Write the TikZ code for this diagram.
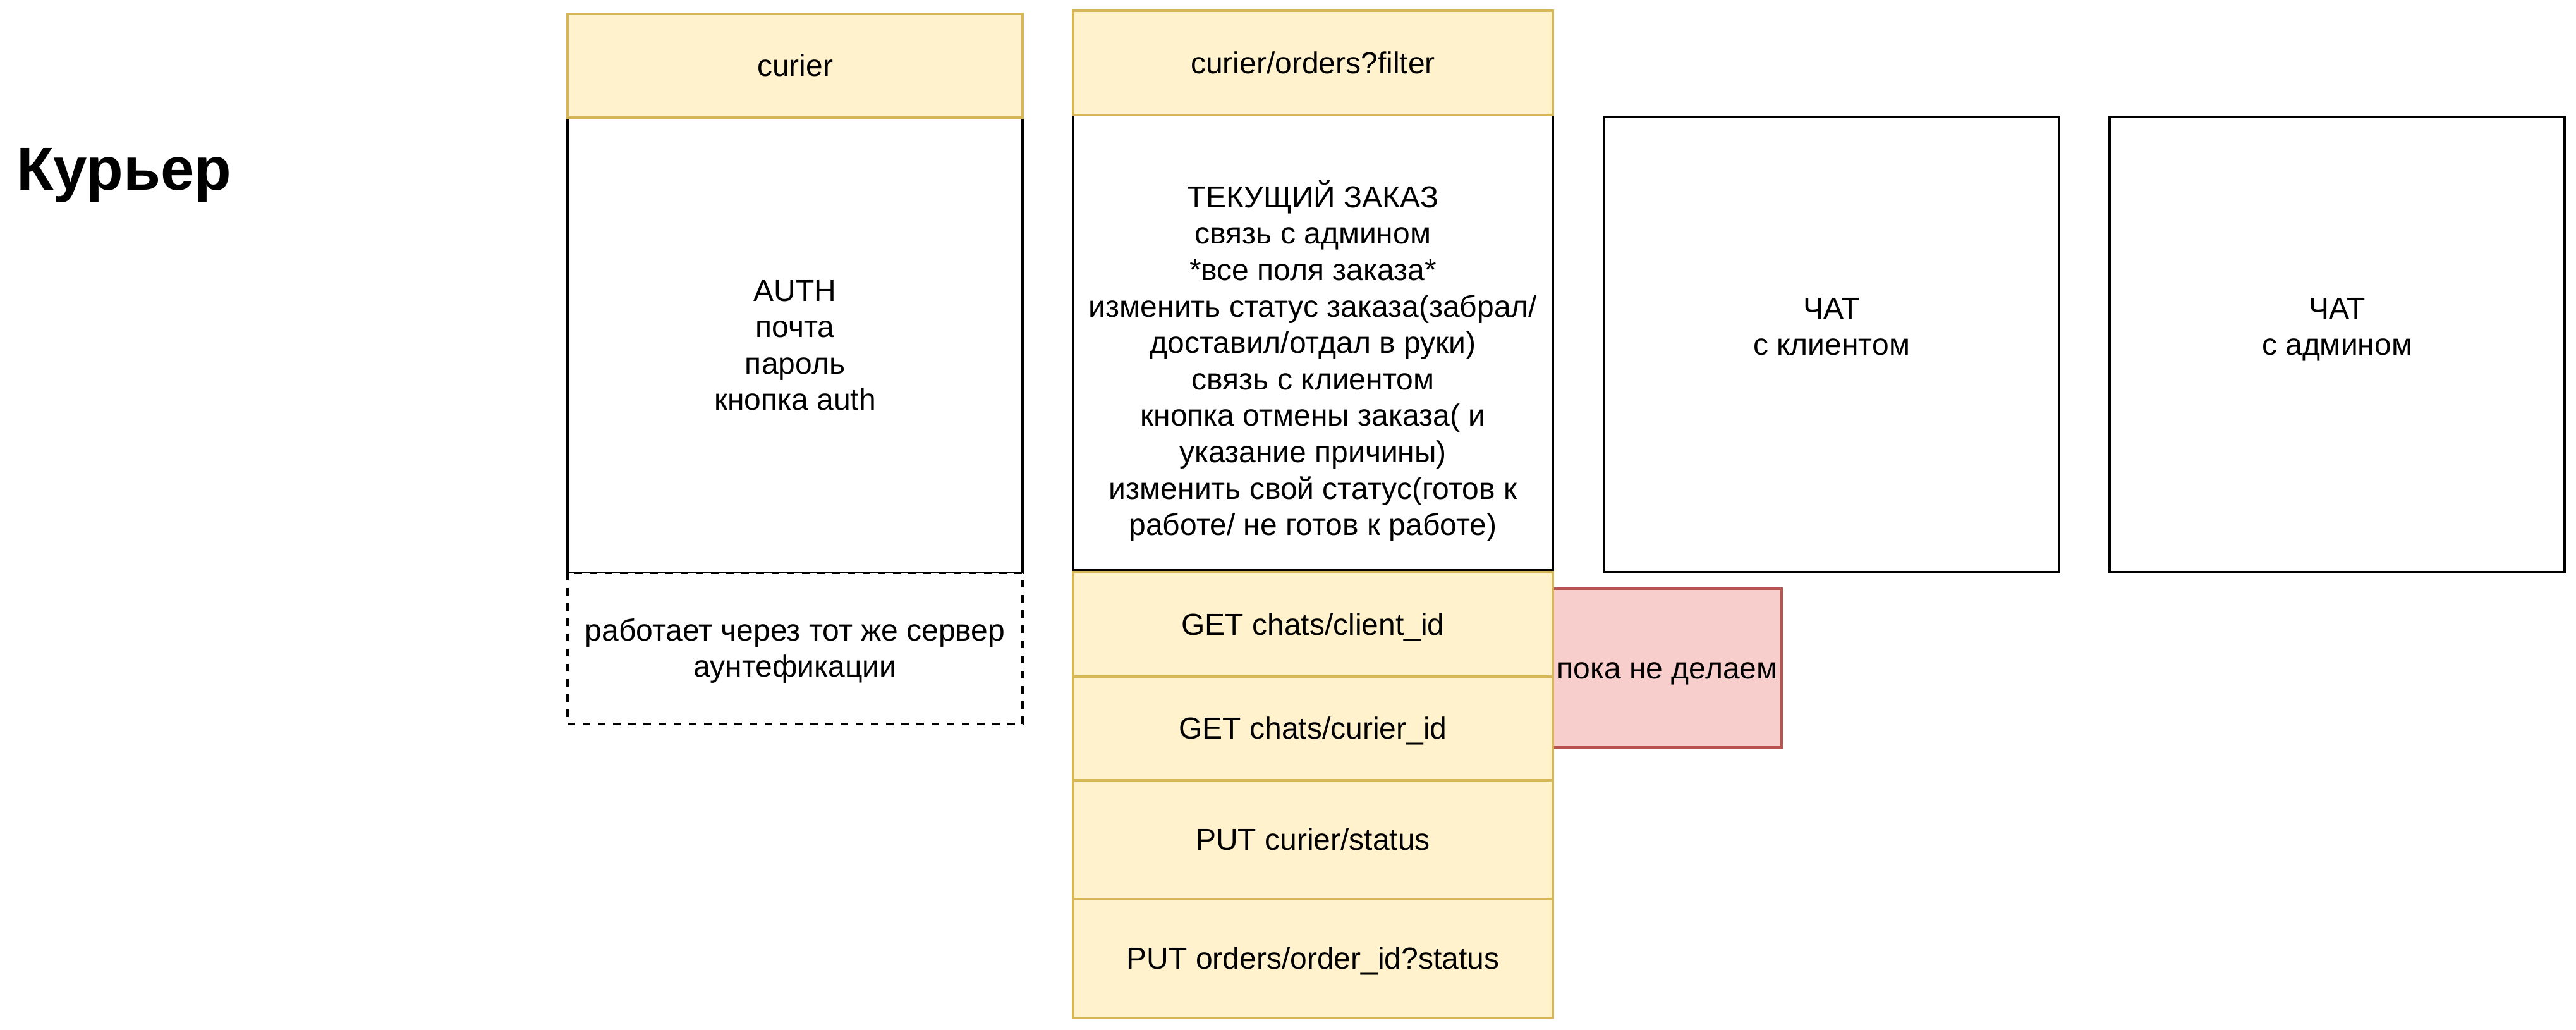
\documentclass[tikz,border=0pt]{standalone}
\usepackage{fontspec}
\setmainfont{Liberation Sans}
\newcommand\dstrut{\rule[-3.04pt]{0pt}{14.4pt}}
\begin{document}
\begin{tikzpicture}[x=1pt,y=-1pt,
  every node/.style={inner sep=0pt, outer sep=0pt, font=\fontsize{12}{14.4}\selectfont, align=center},
  plainbox/.style={draw=black, line width=1pt, fill=white, rectangle},
  yellowbox/.style={draw=yellowline, line width=1pt, fill=yellowfill, rectangle},
  pinkbox/.style={draw=pinkline, line width=1pt, fill=pinkfill, rectangle},
  dashbox/.style={draw=black, line width=1pt, fill=white, rectangle, dash pattern=on 3pt off 3pt},
  txt/.style={text=black}
]
\definecolor{yellowfill}{HTML}{FFF2CC}
\definecolor{yellowline}{HTML}{D6B656}
\definecolor{pinkfill}{HTML}{F8CECC}
\definecolor{pinkline}{HTML}{B85450}
\useasboundingbox[fill=white] (0,0) rectangle (1019,407);

% title
\node[anchor=base west, font=\fontsize{24}{28.8}\selectfont\bfseries] (title) at (6.5,75) {Курьер};

% column 1
\node[plainbox, minimum width=180pt, minimum height=179.9pt] (auth) at (314.5,136.45) {};
\node[txt] (authtext) at (314.5,136.45) {\dstrut AUTH\\почта\\пароль\\кнопка auth\dstrut};
\node[yellowbox, minimum width=180pt, minimum height=41pt] (hdr1) at (314.5,26) {};
\node[txt] (hdr1text) at (314.5,26) {\dstrut curier};
\node[dashbox, minimum width=180pt, minimum height=59.85pt] (note) at (314.5,256.325) {};
\node[txt] (notetext) at (314.5,256.325) {\dstrut работает через тот же сервер\\аунтефикации\dstrut};

% pink note (behind column 2)
\node[pinkbox, minimum width=90.5pt, minimum height=62.75pt] (pink) at (659.5,264.1) {};
\node[txt] (pinktext) at (659.5,264.1) {\dstrut пока не делаем};

% column 2
\node[plainbox, minimum width=189.75pt, minimum height=180pt] (main) at (519.375,135.5) {};
\node[txt] (maintext) at (519.375,142.7) {\dstrut ТЕКУЩИЙ ЗАКАЗ\\связь с админом\\*все поля заказа*\\изменить статус заказа(забрал/\\доставил/отдал в руки)\\связь с клиентом\\кнопка отмены заказа( и\\указание причины)\\изменить свой статус(готов к\\работе/ не готов к работе)\dstrut};
\node[yellowbox, minimum width=189.75pt, minimum height=41.25pt] (hdr2) at (519.375,24.875) {};
\node[txt] (hdr2text) at (519.375,24.875) {\dstrut curier/orders?filter};
\node[yellowbox, minimum width=189.75pt, minimum height=41.3pt] (get1) at (519.375,246.85) {};
\node[txt] (get1text) at (519.375,246.85) {\dstrut GET chats/client\_id};
\node[yellowbox, minimum width=189.75pt, minimum height=41pt] (get2) at (519.375,288) {};
\node[txt] (get2text) at (519.375,288) {\dstrut GET chats/curier\_id};
\node[yellowbox, minimum width=189.75pt, minimum height=46.9pt] (put1) at (519.375,331.95) {};
\node[txt] (put1text) at (519.375,331.95) {\dstrut PUT curier/status};
\node[yellowbox, minimum width=189.75pt, minimum height=47pt] (put2) at (519.375,378.9) {};
\node[txt] (put2text) at (519.375,378.9) {\dstrut PUT orders/order\_id?status};

% chats
\node[plainbox, minimum width=180pt, minimum height=180pt] (chat1) at (724.5,136.25) {};
\node[txt] (chat1text) at (724.5,129.05) {\dstrut ЧАТ\\с клиентом\dstrut};
\node[plainbox, minimum width=180pt, minimum height=180pt] (chat2) at (924.5,136.25) {};
\node[txt] (chat2text) at (924.5,129.05) {\dstrut ЧАТ\\с админом\dstrut};
\end{tikzpicture}
\end{document}
